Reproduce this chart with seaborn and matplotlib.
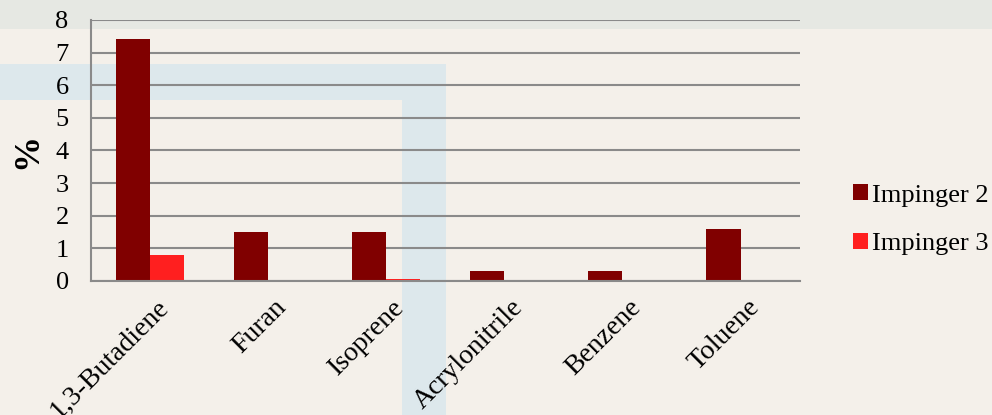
import matplotlib
matplotlib.use("Agg")
import matplotlib.pyplot as plt
import matplotlib.patches as mpatches
import matplotlib.transforms as mtrans
import seaborn as sns
import pandas as pd

# data
compounds = ["1,3-Butadiene", "Furan", "Isoprene", "Acrylonitrile", "Benzene", "Toluene"]
impinger2 = [7.4, 1.5, 1.5, 0.3, 0.3, 1.6]
impinger3 = [0.8, 0.0, 0.05, 0.0, 0.0, 0.0]
series = ["Impinger 2", "Impinger 3"]
colors = ["#800000", "#ff1f1f"]

df = pd.DataFrame({
    "compound": compounds * 2,
    "value": impinger2 + impinger3,
    "series": [series[0]] * len(compounds) + [series[1]] * len(compounds),
})

sns.set_style("white")
plt.rcParams["font.family"] = ["Liberation Serif", "DejaVu Serif"]
plt.rcParams["text.color"] = "black"
plt.rcParams["xtick.color"] = "black"
plt.rcParams["ytick.color"] = "black"
plt.rcParams["axes.labelcolor"] = "black"

bg = "#f4f0ea"
fig = plt.figure(figsize=(9.92, 4.15), dpi=100, facecolor=bg)

# faint background decoration like the slide template
deco = [((0, 0.93), 1, 0.07, "#e6e8e3"),
        ((0, 0.76), 0.44, 0.085, "#dde8ec"),
        ((0.405, 0.0), 0.045, 0.845, "#dde8ec")]
for xy, w, h, col in deco:
    fig.patches.append(mpatches.Rectangle(xy, w, h, transform=fig.transFigure,
                                          color=col, zorder=-5, linewidth=0))

ax = fig.add_axes([0.0917, 0.323, 0.7143, 0.629])
ax.set_facecolor("none")

sns.barplot(data=df, x="compound", y="value", hue="series", palette=colors,
            width=0.58, ax=ax, saturation=1, linewidth=0)

ax.set_ylim(0, 8)
ax.set_yticks(range(0, 9))
ax.yaxis.grid(True, color="#8a8a8a", linewidth=1.5)
ax.set_axisbelow(True)
for s in ["top", "right"]:
    ax.spines[s].set_visible(False)
for s in ["left", "bottom"]:
    ax.spines[s].set_color("#8a8a8a")
    ax.spines[s].set_linewidth(1.5)

ax.set_xlabel("")
ax.set_ylabel("%", fontsize=26, fontweight="bold", labelpad=8)
ax.tick_params(axis="y", labelsize=19, length=0, pad=16)
ax.tick_params(axis="x", labelsize=20, length=0, pad=10)

offset = mtrans.ScaledTranslation(0.06, 0, fig.dpi_scale_trans)
for lbl in ax.get_xticklabels():
    lbl.set_rotation(45)
    lbl.set_ha("right")
    lbl.set_rotation_mode("anchor")
    lbl.set_transform(lbl.get_transform() + offset)

ax.legend(loc="center left", bbox_to_anchor=(0.86, 0.47), bbox_transform=fig.transFigure,
          frameon=False, fontsize=19, handlelength=0.55, handleheight=0.55,
          handletextpad=0.15, labelspacing=1.0, borderpad=0, borderaxespad=0)

fig.savefig("out.png", dpi=100, facecolor=bg)
